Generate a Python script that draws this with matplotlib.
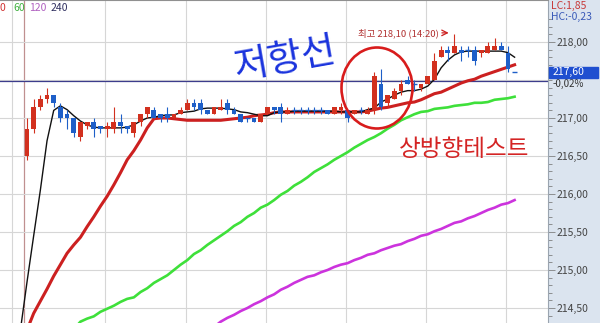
import numpy as np
import matplotlib.pyplot as plt
from matplotlib.patches import Ellipse, Rectangle
from matplotlib.ticker import FixedLocator, FuncFormatter
import matplotlib.transforms as mtrans

plt.rcParams['font.family'] = ['Noto Sans CJK KR', 'DejaVu Sans']

# 5 min candles (bar 0 .. 73)
opens = [216.50, 216.85, 217.15, 217.25, 217.30, 217.15, 217.05, 217.00, 216.75, 216.90,
         216.95, 216.90, 216.85, 216.85, 216.95, 216.90, 216.80, 216.95, 217.05, 217.10,
         217.05, 217.05, 217.00, 217.05, 217.10, 217.20, 217.20, 217.10, 217.05, 217.10,
         217.20, 217.10, 217.05, 217.00, 217.00, 216.95, 217.05, 217.15, 217.15, 217.05,
         217.10, 217.10, 217.10, 217.10, 217.10, 217.10, 217.05, 217.10, 217.10, 217.05,
         217.10, 217.05, 217.10, 217.45, 217.20, 217.25, 217.35, 217.50, 217.45, 217.40,
         217.45, 217.50, 217.80, 217.90, 217.85, 217.90, 217.90, 217.90, 217.85, 217.85,
         217.90, 217.95, 217.85, 217.60]
highs = [217.00, 217.25, 217.30, 217.40, 217.30, 217.20, 217.10, 217.00, 216.95, 216.95,
         217.00, 216.90, 216.95, 217.15, 217.05, 216.90, 216.95, 217.05, 217.15, 217.15,
         217.05, 217.15, 217.05, 217.15, 217.25, 217.25, 217.25, 217.10, 217.15, 217.25,
         217.25, 217.15, 217.05, 217.00, 217.00, 217.05, 217.15, 217.15, 217.20, 217.15,
         217.15, 217.15, 217.15, 217.15, 217.15, 217.10, 217.15, 217.20, 217.10, 217.10,
         217.15, 217.15, 217.60, 217.65, 217.30, 217.40, 217.50, 217.55, 217.50, 217.45,
         217.55, 217.85, 217.95, 217.95, 218.10, 217.95, 217.95, 217.95, 217.90, 218.00,
         218.05, 218.00, 217.95, 217.60]
lows = [216.45, 216.80, 217.10, 217.20, 217.15, 216.95, 216.85, 216.75, 216.70, 216.85,
        216.75, 216.80, 216.75, 216.80, 216.80, 216.80, 216.75, 216.90, 217.00, 217.00,
        216.95, 216.95, 217.00, 217.05, 217.10, 217.10, 217.05, 217.05, 217.05, 217.10,
        217.05, 217.05, 216.95, 216.95, 216.95, 216.95, 217.05, 217.05, 216.95, 217.05,
        217.05, 217.05, 217.05, 217.05, 217.05, 217.05, 217.05, 217.05, 216.95, 217.05,
        217.05, 217.05, 217.05, 217.10, 217.15, 217.25, 217.30, 217.45, 217.35, 217.35,
        217.45, 217.50, 217.80, 217.75, 217.85, 217.75, 217.80, 217.70, 217.80, 217.85,
        217.90, 217.90, 217.60, 217.60]
closes = [216.85, 217.15, 217.25, 217.30, 217.20, 217.00, 217.00, 216.80, 216.95, 216.95,
          216.85, 216.85, 216.90, 216.95, 216.90, 216.85, 216.95, 217.05, 217.15, 217.00,
          217.00, 217.00, 217.05, 217.10, 217.20, 217.15, 217.10, 217.05, 217.15, 217.15,
          217.10, 217.05, 216.95, 217.00, 216.95, 217.05, 217.15, 217.10, 217.05, 217.10,
          217.10, 217.10, 217.10, 217.10, 217.10, 217.05, 217.15, 217.15, 217.00, 217.10,
          217.10, 217.10, 217.55, 217.15, 217.30, 217.35, 217.45, 217.45, 217.45, 217.45,
          217.55, 217.75, 217.90, 217.85, 217.95, 217.85, 217.90, 217.75, 217.90, 217.95,
          217.95, 217.90, 217.65, 217.60]

# moving averages (black starts at bar -1, red at 0, green at 7, violet at 28)
ma_black = [214.20, 214.84, 215.45, 216.05, 216.70, 217.10, 217.16, 217.11, 217.03, 216.96,
            216.91, 216.88, 216.87, 216.87, 216.87, 216.87, 216.88, 216.91, 216.96, 217.00,
            217.01, 217.03, 217.04, 217.04, 217.07, 217.08, 217.09, 217.12, 217.13, 217.13,
            217.13, 217.12, 217.11, 217.08, 217.07, 217.05, 217.03, 217.03, 217.07, 217.08,
            217.08, 217.09, 217.09, 217.09, 217.09, 217.09, 217.09, 217.09, 217.08, 217.08,
            217.08, 217.08, 217.11, 217.13, 217.21, 217.25, 217.30, 217.34, 217.36, 217.36,
            217.38, 217.42, 217.51, 217.66, 217.76, 217.83, 217.87, 217.88, 217.88, 217.88,
            217.88, 217.88, 217.88, 217.86, 217.80]
ma_red = [214.21, 214.43, 214.59, 214.75, 214.92, 215.07, 215.22, 215.33, 215.43, 215.57,
          215.70, 215.84, 215.97, 216.12, 216.28, 216.45, 216.57, 216.71, 216.87, 216.99,
          217.00, 217.00, 216.99, 216.98, 216.97, 216.97, 216.97, 216.97, 216.97, 216.97,
          216.98, 216.99, 217.00, 217.01, 217.03, 217.04, 217.05, 217.07, 217.08, 217.08,
          217.08, 217.08, 217.08, 217.08, 217.08, 217.08, 217.08, 217.08, 217.08, 217.08,
          217.08, 217.09, 217.11, 217.13, 217.14, 217.16, 217.18, 217.20, 217.21, 217.24,
          217.28, 217.32, 217.34, 217.38, 217.42, 217.46, 217.49, 217.51, 217.55, 217.58,
          217.61, 217.64, 217.67, 217.70]
ma_green = [214.22, 214.32, 214.36, 214.39, 214.45, 214.49, 214.53, 214.58, 214.62, 214.64,
            214.71, 214.76, 214.83, 214.88, 214.93, 215.00, 215.07, 215.13, 215.21, 215.26,
            215.33, 215.39, 215.45, 215.51, 215.58, 215.63, 215.70, 215.75, 215.82, 215.86,
            215.92, 215.99, 216.04, 216.11, 216.16, 216.22, 216.29, 216.34, 216.39, 216.45,
            216.50, 216.55, 216.61, 216.66, 216.71, 216.75, 216.80, 216.86, 216.91, 216.97,
            217.01, 217.05, 217.08, 217.09, 217.12, 217.13, 217.14, 217.16, 217.17, 217.18,
            217.20, 217.20, 217.21, 217.24, 217.25, 217.26, 217.28]
ma_violet = [214.25, 214.32, 214.37, 214.41, 214.46, 214.50, 214.55, 214.59, 214.64, 214.68,
             214.74, 214.78, 214.83, 214.87, 214.91, 214.93, 214.97, 215.00, 215.04, 215.07,
             215.09, 215.13, 215.16, 215.20, 215.22, 215.26, 215.29, 215.32, 215.34, 215.38,
             215.41, 215.45, 215.47, 215.51, 215.54, 215.58, 215.62, 215.64, 215.68, 215.71,
             215.75, 215.79, 215.82, 215.86, 215.88, 215.92]

ref_price = 217.49
last_price = 217.60
high_time = '14:20'
legend_labels = ['0', '60', '120', '240']
price_labels = [214.5, 215.0, 215.5, 216.0, 216.5, 217.0, 218.0]

RED = '#d2301e'
BLUE = '#1e5fc8'
PANEL = '#dbe4ef'

fig = plt.figure(figsize=(6.0, 3.23), dpi=100, facecolor=PANEL)
ax = fig.add_axes([0, 0, 548 / 600, 1])
ax.set_facecolor('white')

# grid
for gx in [-2.25] + [11.75 + 12 * k for k in range(6)]:
    ax.axvline(gx, color='#d6d6d6', lw=0.8, zorder=0)
ax.axvline(-0.45, color='#c09090', lw=0.9, zorder=0)
for gy in np.arange(214.5, 218.01, 0.5):
    ax.axhline(gy, color='#d6d6d6', lw=0.8, zorder=0)

# moving averages
ax.plot(np.arange(-1, len(ma_black) - 1), ma_black, color='#111111', lw=1.0, zorder=3)
ax.plot(np.arange(0, len(ma_red)), ma_red, color='#cc2020', lw=2.2, zorder=2)
ax.plot(np.arange(7, 7 + len(ma_green)), ma_green, color='#3ee03a', lw=1.9, zorder=2)
ax.plot(np.arange(28, 28 + len(ma_violet)), ma_violet, color='#cc33dd', lw=1.9, zorder=2)

ax.axhline(ref_price, color='#3c3c8c', lw=0.9, zorder=1)

# candles
o = np.array(opens); h = np.array(highs); l = np.array(lows); c = np.array(closes)
x = np.arange(len(o))
cols = np.where(c > o, RED, BLUE)
ax.vlines(x, l, h, colors=cols, lw=0.8, zorder=4)
ax.bar(x, np.abs(c - o), bottom=np.minimum(o, c), width=0.72, color=cols, lw=0, zorder=4)
doji = c == o
ax.hlines(c[doji], x[doji] - 0.36, x[doji] + 0.36, colors=cols[doji], lw=1.0, zorder=4)

ax.set_xlim(-4.04, 78.0)
ax.set_ylim(214.3026, 218.5526)

# right price axis
ax.yaxis.tick_right()
ax.yaxis.set_major_locator(FixedLocator(price_labels))
ax.yaxis.set_minor_locator(FixedLocator(np.arange(214.4, 218.35, 0.1)))
ax.yaxis.set_major_formatter(FuncFormatter(lambda v, p: f'{v:.2f}'.replace('.', ',')))
ax.tick_params(axis='y', which='major', direction='out', length=5, width=0.6,
               color='#808080', labelcolor='#444444', labelsize=7.5, pad=1)
ax.tick_params(axis='y', which='minor', direction='out', length=3, width=0.6, color='#808080')
ax.set_xticks([])
for s in ['left', 'bottom']:
    ax.spines[s].set_visible(False)
ax.spines['top'].set_color('#909090')
ax.spines['right'].set_color('#9aa4b0')

# last price box
bt = mtrans.blended_transform_factory(ax.transAxes, ax.transData)
ax.add_patch(Rectangle((1.002, last_price - 0.07), 49 / 548, 0.14, transform=bt,
                       color='#1f4fd0', clip_on=False, zorder=6))
ax.text(1.008, last_price, f'{last_price:.2f}'.replace('.', ','), transform=bt, color='white',
        fontsize=7.5, va='center', ha='left', clip_on=False, zorder=7)
ax.text(1.008, last_price - 0.15, '-0,02%', transform=bt, color='#333333',
        fontsize=7, va='center', ha='left', clip_on=False)

fig.text(551 / 600, 1 - 6 / 323, 'LC:1,85', color='#c83a3a', fontsize=7.5, va='center')
fig.text(551 / 600, 1 - 17 / 323, 'HC:-0,23', color='#3a5ab8', fontsize=7.5, va='center')

# legend of averages
leg_cols = ['#d03030', '#40b040', '#b060c0', '#303060']
leg_x = [0, 13, 29, 51]
for lab, lc, lx in zip(legend_labels, leg_cols, leg_x):
    fig.text(lx / 600, 1 - 8 / 323, lab, color=lc, fontsize=7.5, va='center', ha='left')

# high marker
hi = int(np.argmax(h))
ax.text(hi - 2.4, h[hi] + 0.02, f'최고 {h[hi]:.2f} ({high_time})'.replace('.', ','),
        color='#b03030', fontsize=6.8, ha='right', va='center')
ax.annotate('', xy=(hi - 0.45, h[hi] + 0.02), xytext=(hi - 2.3, h[hi] + 0.02),
            arrowprops=dict(arrowstyle='->', color='#cc2020', lw=0.9))

# hand drawn notes
ax.add_patch(Ellipse((377 / 548, 1 - 88 / 323), 71 / 548, 81 / 323, transform=ax.transAxes,
                     fill=False, ec='#d81c1c', lw=1.9, zorder=8))
ax.text(285 / 548, 1 - 60 / 323, '저항선', transform=ax.transAxes, color='#1a33dd',
        fontsize=27, rotation=10, ha='center', va='center', zorder=8)
ax.text(464 / 548, 1 - 149 / 323, '상방향테스트', transform=ax.transAxes, color='#d42424',
        fontsize=17, ha='center', va='center', zorder=8)

fig.savefig('out.png', dpi=100, facecolor=PANEL)
